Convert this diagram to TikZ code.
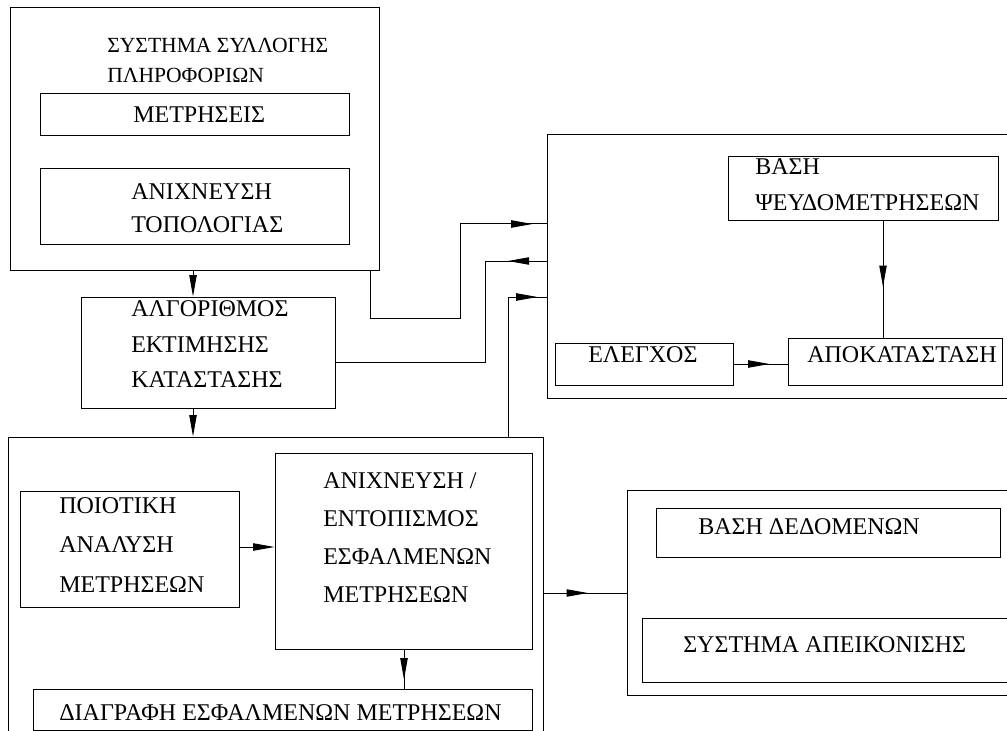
\documentclass[tikz,border=0pt]{standalone}
\usepackage{fontspec}
\setmainfont{Liberation Serif}
\usetikzlibrary{arrows.meta,fit,decorations.markings}
\begin{document}
\begin{tikzpicture}[x=0.75pt,y=-0.75pt,
  >={Triangle[length=16pt,width=5.5pt]},
  box/.style={draw, line width=0.75pt, inner sep=0pt},
  txt/.style={inner sep=0pt, anchor=west, align=left, font=\fontsize{18}{#1}\selectfont},
  txt/.default=27,
  conn/.style={draw, line width=0.75pt},
  headat/.style={postaction={decorate, decoration={markings, mark=at position #1 with {\arrow{>}}}}},
]
\useasboundingbox (0,0) rectangle (1007,731);

% information collection system
\node[box, fit={(10,8) (379,270)}] (sys) {};
\node[txt=22.5, font=\fontsize{16.2}{22.5}\selectfont] (sysT) at (107,60) {ΣΥΣΤΗΜΑ ΣΥΛΛΟΓΗΣ\\ΠΛΗΡΟΦΟΡΙΩΝ};
\node[box, fit={(40,94) (349,136)}] (meas) {};
\node[txt] (measT) at (133,115) {ΜΕΤΡΗΣΕΙΣ};
\node[box, fit={(40,169) (349,245)}] (topo) {};
\node[txt=24.75] (topoT) at (131,208.5) {ΑΝΙΧΝΕΥΣΗ\\ΤΟΠΟΛΟΓΙΑΣ};

% state estimation
\node[box, fit={(81,297) (335,408)}] (alg) {};
\node[txt=26.6] (algT) at (131,344.5) {ΑΛΓΟΡΙΘΜΟΣ\\ΕΚΤΙΜΗΣΗΣ\\ΚΑΤΑΣΤΑΣΗΣ};

% restoration block
\node[box, fit={(547,135) (1015,398)}] (rec) {};
\node[box, fit={(728,157) (998,221)}] (pseudo) {};
\node[txt=27] (pseudoT) at (755,185) {ΒΑΣΗ\\ΨΕΥΔΟΜΕΤΡΗΣΕΩΝ};
\node[box, fit={(555,343) (733,385)}] (ctrl) {};
\node[txt] (ctrlT) at (588,355) {ΕΛΕΓΧΟΣ};
\node[box, fit={(788,338) (1002,385)}] (rest) {};
\node[txt] (restT) at (807,355) {ΑΠΟΚΑΤΑΣΤΑΣΗ};

% bad data processing
\node[box, fit={(8,437) (543,745)}] (det) {};
\node[box, fit={(20,491) (239,607)}] (qual) {};
\node[txt=29.6] (qualT) at (59,545) {ΠΟΙΟΤΙΚΗ\\ΑΝΑΛΥΣΗ\\ΜΕΤΡΗΣΕΩΝ};
\node[box, fit={(275,453) (532,649)}] (ident) {};
\node[txt=28.5] (identT) at (323,537.5) {ΑΝΙΧΝΕΥΣΗ /\\ΕΝΤΟΠΙΣΜΟΣ\\ΕΣΦΑΛΜΕΝΩΝ\\ΜΕΤΡΗΣΕΩΝ};
\node[box, fit={(33,689) (532,730)}] (del) {};
\node[txt] (delT) at (59,713) {ΔΙΑΓΡΑΦΗ ΕΣΦΑΛΜΕΝΩΝ ΜΕΤΡΗΣΕΩΝ};

% output block
\node[box, fit={(627,490) (1015,695)}] (out) {};
\node[box, fit={(656,508) (1000,557)}] (db) {};
\node[txt] (dbT) at (698,527) {ΒΑΣΗ ΔΕΔΟΜΕΝΩΝ};
\node[box, fit={(642,618) (1015,682)}] (disp) {};
\node[txt] (dispT) at (683,645) {ΣΥΣΤΗΜΑ ΑΠΕΙΚΟΝΙΣΗΣ};

% bend points of the connectors
\coordinate (xa) at (193,0);
\coordinate (k1) at (370,318);
\coordinate (k2) at (460,224);
\coordinate (k3) at (485,261);
\coordinate (k4) at (485,362);
\coordinate (k5) at (508,297);
\coordinate (k6) at (883,0);
\coordinate (k7) at (0,364);
\coordinate (k8) at (0,547);
\coordinate (k9) at (404,0);
\coordinate (k10) at (0,593);

% connectors
\draw[conn, ->] (sys.south -| xa) -- (alg.north -| xa);
\draw[conn, ->] (alg.south -| xa) -- (det.north -| xa);
\draw[conn, headat=-10.5pt] (sys.south -| k1) -- (k1) -| (k2) -- (rec.west |- k2);
\draw[conn, headat=29pt] (rec.west |- k3) -- (k3) -- (k4) -- (alg.east |- k4);
\draw[conn, headat=-6.75pt] (det.north -| k5) -- (k5) -- (rec.west |- k5);
\draw[conn, headat=-38pt] (pseudo.south -| k6) -- (rest.north -| k6);
\draw[conn, headat=-13.5pt] (ctrl.east |- k7) -- (rest.west |- k7);
\draw[conn, ->] (qual.east |- k8) -- (ident.west |- k8);
\draw[conn, headat=-6.75pt] (ident.south -| k9) -- (del.north -| k9);
\draw[conn, headat=-29pt] (det.east |- k10) -- (out.west |- k10);
\end{tikzpicture}
\end{document}
